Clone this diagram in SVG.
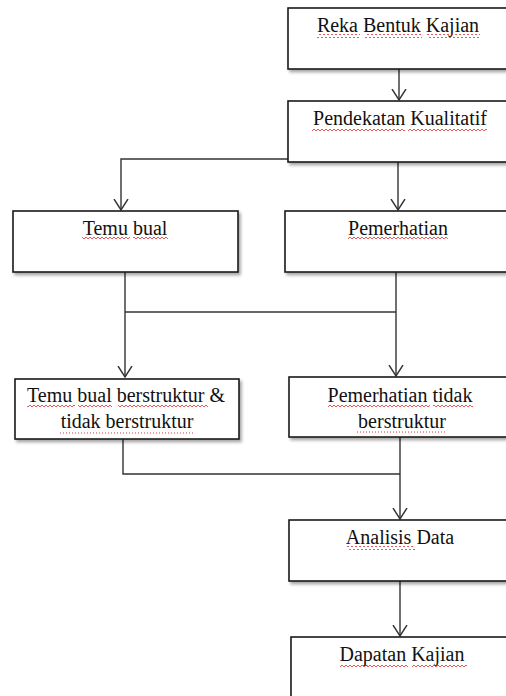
<svg xmlns="http://www.w3.org/2000/svg" width="506" height="696" viewBox="0 0 506 696">
<style>
.box{fill:#fff;stroke:#1a1a1a;stroke-width:1.6;filter:url(#sh)}
.t{font-family:"Liberation Serif","Times New Roman",serif;font-size:20px;fill:#111;text-anchor:middle}
.c{fill:none;stroke:#333;stroke-width:1.4}
.a{marker-end:url(#ah)}
.w{fill:url(#wave)}
.d{stroke:#e03030;stroke-width:1;stroke-dasharray:1 2}
</style>
<defs>
<filter id="sh" x="-10%" y="-10%" width="130%" height="140%">
<feDropShadow dx="2" dy="2.5" stdDeviation="1.5" flood-color="#000" flood-opacity="0.35"/>
</filter>
<marker id="ah" viewBox="0 0 12 16" refX="11" refY="8" markerWidth="12" markerHeight="16" markerUnits="userSpaceOnUse" orient="auto">
<path d="M0,1 L11,8 L0,15" fill="none" stroke="#333" stroke-width="1.4"/>
</marker>
<pattern id="wave" patternUnits="userSpaceOnUse" width="4" height="4">
<path d="M0,3 L2,1 L4,3" fill="none" stroke="#e03030" stroke-width="0.8"/>
</pattern>
</defs>
<g id="connectors">
<path class="c a" d="M399,69 V100"/>
<path class="c a" d="M288,159 H121 V210"/>
<path class="c a" d="M398,162 V210"/>
<path class="c a" d="M125,272 V377"/>
<path class="c a" d="M396,272 V376"/>
<path class="c" d="M125,312 H396"/>
<path class="c" d="M123,439 V474 H400"/>
<path class="c a" d="M400,437 V519"/>
<path class="c a" d="M400,581 V636"/>
</g>
<g id="n1">
<rect class="box" x="288" y="8" width="240" height="61"/>
<text class="t" x="398" y="32">Reka Bentuk Kajian</text>
<rect class="w" x="317" y="34" width="43" height="4"/>
<rect class="w" x="365" y="34" width="57" height="4"/>
<rect class="w" x="427" y="34" width="53" height="4"/>
</g>
<g id="n2">
<rect class="box" x="288" y="101" width="240" height="61"/>
<text class="t" x="400" y="125">Pendekatan Kualitatif</text>
<rect class="w" x="312" y="127" width="93" height="4"/>
<rect class="w" x="408" y="127" width="79" height="4"/>
</g>
<g id="n3">
<rect class="box" x="13" y="211" width="225" height="61"/>
<text class="t" x="125" y="235">Temu bual</text>
<rect class="w" x="82" y="237" width="48" height="4"/>
<rect class="w" x="133" y="237" width="35" height="4"/>
</g>
<g id="n4">
<rect class="box" x="285" y="211" width="240" height="61"/>
<text class="t" x="398" y="235">Pemerhatian</text>
<rect class="w" x="348" y="237" width="100" height="4"/>
</g>
<g id="n5">
<rect class="box" x="15" y="379" width="224" height="60"/>
<text class="t" x="126" y="402">Temu bual  berstruktur &amp;</text>
<text class="t" x="127" y="428">tidak berstruktur</text>
<rect class="w" x="27" y="404" width="48" height="4"/>
<rect class="w" x="78" y="404" width="34" height="4"/>
<rect class="w" x="118" y="404" width="90" height="4"/>
<line class="d" x1="60" y1="433" x2="195" y2="433"/>
</g>
<g id="n6">
<rect class="box" x="289" y="377" width="240" height="60"/>
<text class="t" x="400" y="402">Pemerhatian tidak</text>
<text class="t" x="402" y="428">berstruktur</text>
<rect class="w" x="328" y="404" width="102" height="4"/>
<rect class="w" x="433" y="404" width="40" height="4"/>
<line class="d" x1="357" y1="432" x2="447" y2="432"/>
</g>
<g id="n7">
<rect class="box" x="289" y="520" width="240" height="61"/>
<text class="t" x="400" y="544">Analisis Data</text>
<rect class="w" x="347" y="546" width="68" height="4"/>
</g>
<g id="n8">
<rect class="box" x="291" y="637" width="240" height="80"/>
<text class="t" x="402" y="661">Dapatan Kajian</text>
<rect class="w" x="340" y="663" width="68" height="4"/>
<rect class="w" x="412" y="663" width="55" height="4"/>
</g>
</svg>
